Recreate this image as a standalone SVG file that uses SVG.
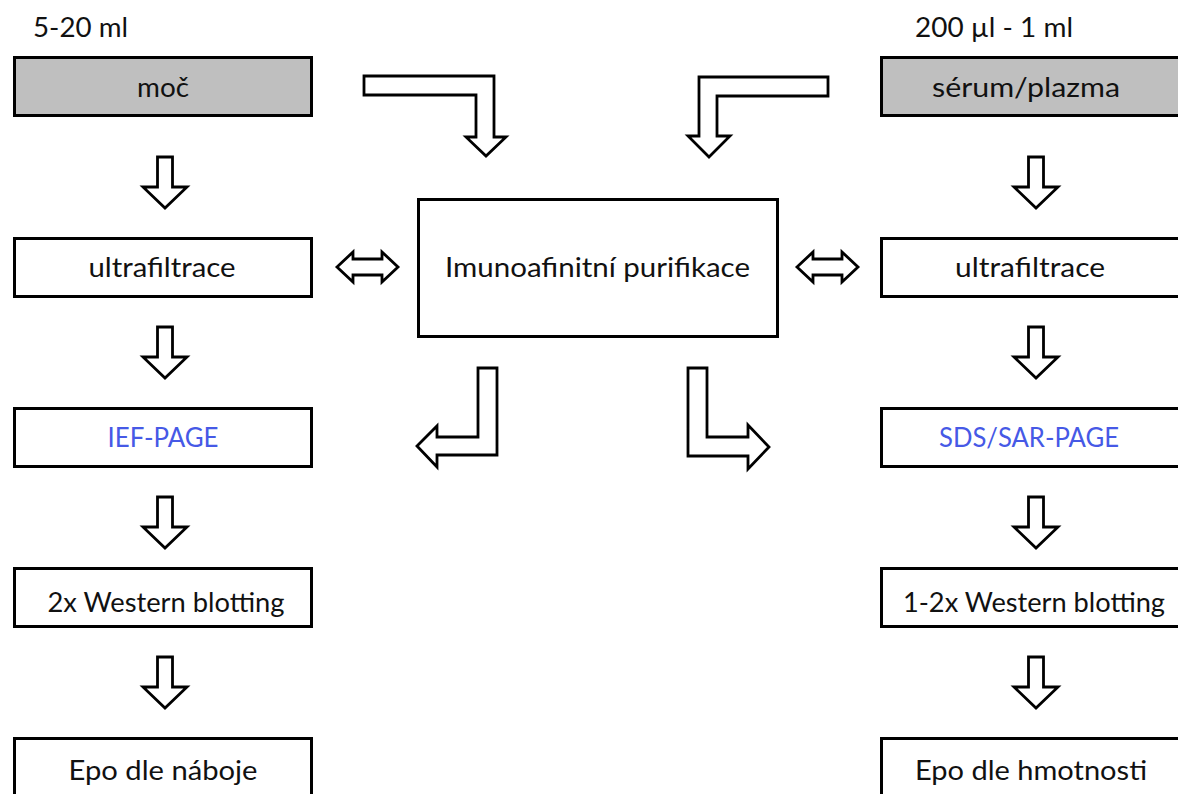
<svg xmlns="http://www.w3.org/2000/svg" width="1178" height="794" viewBox="0 0 1178 794">
<style>
.box{fill:#fff;stroke:#000;stroke-width:3}
.gray{fill:#bfbfbf}
.arr{fill:#fff;stroke:#000;stroke-width:2.8;stroke-linejoin:miter}
text{font-family:Lato,"Open Sans","Liberation Sans",sans-serif;font-size:26px;fill:#111}
.c{text-anchor:middle}
.blue{fill:#4659e6}
</style>
<rect width="1178" height="794" fill="#fff"/>
<g id="label-left"><text x="33" y="37" textLength="95" lengthAdjust="spacingAndGlyphs">5-20 ml</text></g>
<g id="label-right"><text x="915" y="37" textLength="158" lengthAdjust="spacingAndGlyphs">200 µl - 1 ml</text></g>

<g id="moc"><rect class="box gray" x="14.5" y="57.5" width="297" height="58"/><text class="c" x="163" y="97" textLength="52" lengthAdjust="spacingAndGlyphs">moč</text></g>
<g id="ultra-left"><rect class="box" x="14.5" y="238.5" width="297" height="58"/><text class="c" x="162" y="277" textLength="147" lengthAdjust="spacingAndGlyphs">ultrafiltrace</text></g>
<g id="ief"><rect class="box" x="14.5" y="408.5" width="297" height="58"/><text class="c blue" x="163" y="447" textLength="111" lengthAdjust="spacingAndGlyphs">IEF-PAGE</text></g>
<g id="wb-left"><rect class="box" x="14.5" y="568.5" width="297" height="58"/><text class="c" x="166" y="612" textLength="237" lengthAdjust="spacingAndGlyphs">2x Western blotting</text></g>
<g id="epo-left"><rect class="box" x="14.5" y="738.5" width="297" height="70"/><text class="c" x="163" y="780" textLength="189" lengthAdjust="spacingAndGlyphs">Epo dle náboje</text></g>

<g id="serum"><rect class="box gray" x="881.5" y="57.5" width="304" height="58"/><text class="c" x="1026" y="97" textLength="188" lengthAdjust="spacingAndGlyphs">sérum/plazma</text></g>
<g id="ultra-right"><rect class="box" x="881.5" y="238.5" width="304" height="58"/><text class="c" x="1030" y="277" textLength="150" lengthAdjust="spacingAndGlyphs">ultrafiltrace</text></g>
<g id="sds"><rect class="box" x="881.5" y="408.5" width="304" height="58"/><text class="c blue" x="1029" y="447" textLength="180" lengthAdjust="spacingAndGlyphs">SDS/SAR-PAGE</text></g>
<g id="wb-right"><rect class="box" x="881.5" y="568.5" width="304" height="58"/><text class="c" x="1034" y="612" textLength="262" lengthAdjust="spacingAndGlyphs">1-2x Western blotting</text></g>
<g id="epo-right"><rect class="box" x="881.5" y="738.5" width="304" height="70"/><text class="c" x="1031" y="780" textLength="232" lengthAdjust="spacingAndGlyphs">Epo dle hmotnosti</text></g>

<g id="imuno"><rect class="box" x="418.5" y="199.5" width="359" height="137"/><text class="c" x="597.5" y="277" textLength="305" lengthAdjust="spacingAndGlyphs">Imunoafinitní purifikace</text></g>

<g id="connectors">
<defs><polygon id="down" points="-7.5,0 7.5,0 7.5,30 22,30 0,51 -22,30 -7.5,30"/></defs>
<use href="#down" class="arr" x="165" y="157"/>
<use href="#down" class="arr" x="165" y="327"/>
<use href="#down" class="arr" x="165" y="497"/>
<use href="#down" class="arr" x="165" y="657"/>
<use href="#down" class="arr" x="1036" y="157"/>
<use href="#down" class="arr" x="1036" y="327"/>
<use href="#down" class="arr" x="1036" y="497"/>
<use href="#down" class="arr" x="1036" y="657"/>
<polygon class="arr" points="364,76 494,76 494,137 506,137 486,156 466,137 476,137 476,95 364,95"/>
<polygon class="arr" points="828,77 828,96 717,96 717,136 730,136 709,157 688,136 699,136 699,77"/>
<polygon class="arr" points="478,368 497,368 497,455 437,455 437,467 417,446 437,426 437,437 478,437"/>
<polygon class="arr" points="688,368 707,368 707,437 748,437 748,425 769,447 748,469 748,456 688,456"/>
<polygon class="arr" points="337,267 353,252 353,259 382,259 382,252 398,267 382,282 382,275 353,275 353,282"/>
<polygon class="arr" points="797,267 813,252 813,259 842,259 842,252 858,267 842,282 842,275 813,275 813,282"/>
</g>
</svg>
